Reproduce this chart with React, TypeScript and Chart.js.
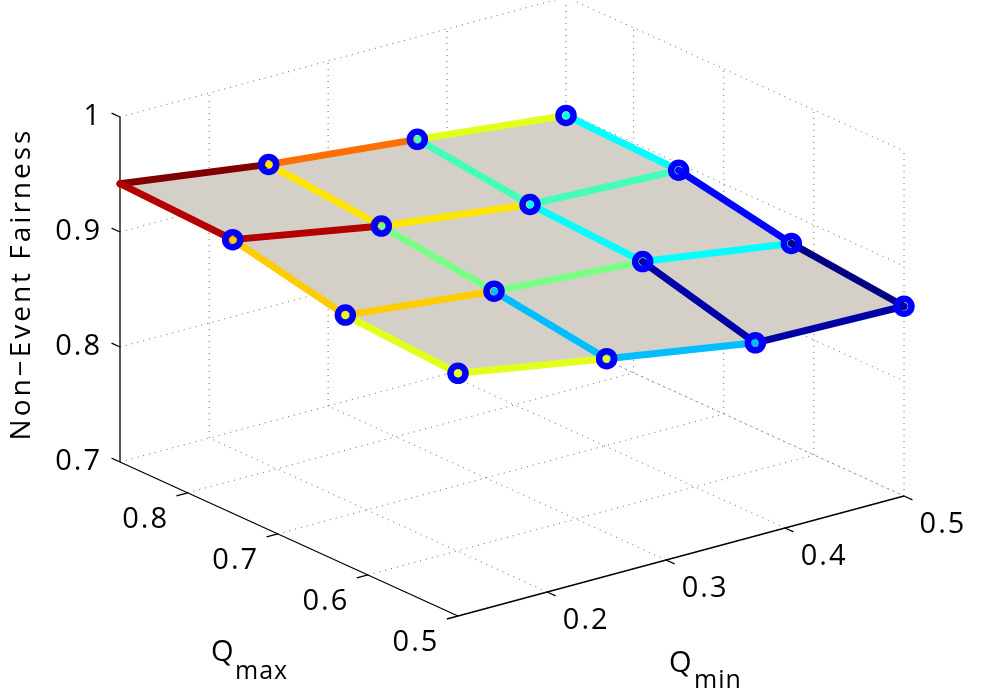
import React, { useEffect, useRef } from "react";
import { Chart, registerables } from "chart.js";

Chart.register(...registerables);

// surface grid
const qMinValues = [0.125, 0.25, 0.375, 0.5];
const qMaxValues = [0.5, 0.625, 0.75, 0.875];

// Non-Event Fairness, one row per Qmax value (columns follow qMinValues)
const fairnessQmax0500 = [0.911, 0.889, 0.868, 0.865];
const fairnessQmax0625 = [0.917, 0.903, 0.894, 0.875];
const fairnessQmax0750 = [0.938, 0.915, 0.899, 0.894];
const fairnessQmax0875 = [0.942, 0.924, 0.911, 0.897];
const fairnessRows = [fairnessQmax0500, fairnessQmax0625, fairnessQmax0750, fairnessQmax0875];

// axis limits and ticks
const qMinLimits = [0.125, 0.5];
const qMaxLimits = [0.5, 0.875];
const fairnessLimits = [0.7, 1];
const qMinTicks = [0.2, 0.3, 0.4, 0.5];
const qMaxTicks = [0.5, 0.6, 0.7, 0.8];
const fairnessTicks = [0.7, 0.8, 0.9, 1];

// orthographic view: screen position of the front floor corner and the
// screen vectors spanned by each full axis range
const VIEW = {
  origin: [458, 616],
  qMin: [446, -120],
  qMax: [-338, -154],
  z: [0, -345],
};

const FONT = "'Open Sans', 'Noto Sans', sans-serif";
const FACE_COLOR = "#d4d0c8";
const MARKER_COLOR = "#0000ff";

type P = { x: number; y: number };

const norm = (v: number, lim: number[]) => (v - lim[0]) / (lim[1] - lim[0]);

function project(qmin: number, qmax: number, z: number): P {
  const a = norm(qmin, qMinLimits);
  const b = norm(qmax, qMaxLimits);
  const c = norm(z, fairnessLimits);
  return {
    x: VIEW.origin[0] + a * VIEW.qMin[0] + b * VIEW.qMax[0] + c * VIEW.z[0],
    y: VIEW.origin[1] + a * VIEW.qMin[1] + b * VIEW.qMax[1] + c * VIEW.z[1],
  };
}

// MATLAB jet colormap
function jet(t: number) {
  const c = (v: number) => Math.round(255 * Math.min(1, Math.max(0, v)));
  const r = c(1.5 - Math.abs(4 * t - 3));
  const g = c(1.5 - Math.abs(4 * t - 2));
  const b = c(1.5 - Math.abs(4 * t - 1));
  return `rgb(${r},${g},${b})`;
}

function lineSet(points: P[], style: Record<string, unknown>, order: number) {
  return {
    type: "line" as const,
    data: points,
    showLine: true,
    pointRadius: 0,
    pointHoverRadius: 0,
    fill: false,
    order,
    ...style,
  };
}

function buildDatasets() {
  const sets: any[] = [];
  const allZ = fairnessRows.flat();
  const zLo = Math.min(...allZ);
  const zHi = Math.max(...allZ);
  const vertex = (i: number, j: number) =>
    project(qMinValues[j], qMaxValues[i], fairnessRows[i][j]);
  const colorAt = (i: number, j: number) => jet((fairnessRows[i][j] - zLo) / (zHi - zLo));

  // dotted grid on floor and back walls
  const grid = { borderColor: "rgba(40,40,40,0.7)", borderWidth: 1, borderDash: [1, 5] };
  const [q0, q1] = qMinLimits;
  const [m0, m1] = qMaxLimits;
  const [z0, z1] = fairnessLimits;
  qMinTicks.forEach((t) => {
    sets.push(lineSet([project(t, m0, z0), project(t, m1, z0)], grid, 6));
    sets.push(lineSet([project(t, m1, z0), project(t, m1, z1)], grid, 6));
  });
  qMaxTicks.forEach((t) => {
    sets.push(lineSet([project(q0, t, z0), project(q1, t, z0)], grid, 6));
    sets.push(lineSet([project(q1, t, z0), project(q1, t, z1)], grid, 6));
  });
  fairnessTicks.forEach((t) => {
    sets.push(lineSet([project(q0, m1, t), project(q1, m1, t)], grid, 6));
    sets.push(lineSet([project(q1, m1, t), project(q1, m0, t)], grid, 6));
  });

  // solid axes and tick marks
  const axis = { borderColor: "#000", borderWidth: 1.3 };
  sets.push(lineSet([project(q0, m1, z0), project(q0, m1, z1)], axis, 5));
  sets.push(lineSet([project(q0, m0, z0), project(q0, m1, z0)], axis, 5));
  sets.push(lineSet([project(q0, m0, z0), project(q1, m0, z0)], axis, 5));
  const tq = 0.025 * (q1 - q0);
  const tm = 0.025 * (m1 - m0);
  fairnessTicks.forEach((t) =>
    sets.push(lineSet([project(q0, m1, t), project(q0, m1 + tm, t)], axis, 5))
  );
  qMaxTicks.forEach((t) =>
    sets.push(lineSet([project(q0, t, z0), project(q0 - tq, t, z0)], axis, 5))
  );
  qMinTicks.forEach((t) =>
    sets.push(lineSet([project(t, m0, z0), project(t, m0 - tm, z0)], axis, 5))
  );

  // surface faces
  for (let i = 0; i < qMaxValues.length - 1; i++) {
    for (let j = 0; j < qMinValues.length - 1; j++) {
      const poly = [vertex(i, j), vertex(i, j + 1), vertex(i + 1, j + 1), vertex(i + 1, j), vertex(i, j)];
      sets.push(
        lineSet(poly, { fill: "shape", backgroundColor: FACE_COLOR, borderWidth: 0, borderColor: FACE_COLOR }, 4)
      );
    }
  }

  // coloured mesh edges (flat colour of the lower-index vertex)
  for (let i = 0; i < qMaxValues.length; i++) {
    for (let j = 0; j < qMinValues.length; j++) {
      const edge = { borderColor: colorAt(i, j), borderWidth: 7, borderCapStyle: "round" };
      if (j + 1 < qMinValues.length) sets.push(lineSet([vertex(i, j), vertex(i, j + 1)], edge, 2));
      if (i + 1 < qMaxValues.length) sets.push(lineSet([vertex(i, j), vertex(i + 1, j)], edge, 2));
    }
  }

  // hollow blue markers (none on the top-left corner vertex)
  const markers: P[] = [];
  for (let i = 0; i < qMaxValues.length; i++) {
    for (let j = 0; j < qMinValues.length; j++) {
      if (i === qMaxValues.length - 1 && j === 0) continue;
      markers.push(vertex(i, j));
    }
  }
  sets.push({
    type: "line" as const,
    data: markers,
    showLine: false,
    pointStyle: "circle",
    pointRadius: 7.5,
    pointHoverRadius: 7.5,
    pointBorderWidth: 6.5,
    pointBorderColor: MARKER_COLOR,
    pointBackgroundColor: "rgba(0,0,0,0)",
    order: 0,
  });
  return sets;
}

const labelsPlugin = {
  id: "labels3d",
  afterDraw(chart: Chart) {
    const { ctx } = chart;
    const sx = chart.scales.x;
    const sy = chart.scales.y;
    const px = (p: P) => ({ x: sx.getPixelForValue(p.x), y: sy.getPixelForValue(p.y) });
    const [q0] = qMinLimits;
    const [m0, m1] = qMaxLimits;
    const z0 = fairnessLimits[0];
    ctx.save();
    ctx.fillStyle = "#000";
    (ctx as any).letterSpacing = "2px";
    ctx.font = `29px ${FONT}`;
    ctx.textBaseline = "middle";

    ctx.textAlign = "right";
    fairnessTicks.forEach((t) => {
      const p = px(project(q0, m1, t));
      ctx.fillText(String(t), p.x - 18, p.y);
    });
    ctx.textAlign = "center";
    qMaxTicks.forEach((t) => {
      const p = px(project(q0, t, z0));
      ctx.fillText(String(t), p.x - 42, p.y + 27);
    });
    qMinTicks.forEach((t) => {
      const p = px(project(t, m0, z0));
      ctx.fillText(String(t), p.x + 39, p.y + 29);
    });

    // axis titles
    ctx.textBaseline = "alphabetic";
    ctx.textAlign = "left";
    (ctx as any).letterSpacing = "1px";
    ctx.font = `29px ${FONT}`;
    ctx.fillText("Q", 211, 661);
    ctx.fillText("Q", 669, 672);
    ctx.font = `25px ${FONT}`;
    ctx.fillText("max", 235, 679);
    ctx.fillText("min", 694, 688);

    ctx.translate(22, 284);
    ctx.rotate(-Math.PI / 2);
    ctx.textAlign = "center";
    ctx.textBaseline = "middle";
    (ctx as any).letterSpacing = "3px";
    ctx.font = `28px ${FONT}`;
    ctx.fillText("Non\u2212Event Fairness", 0, 0);
    ctx.restore();
  },
};

export default function App() {
  const canvasRef = useRef<HTMLCanvasElement>(null);
  const chartRef = useRef<Chart | null>(null);

  useEffect(() => {
    if (!canvasRef.current) return;
    if (chartRef.current) chartRef.current.destroy();
    chartRef.current = new Chart(canvasRef.current, {
      type: "line",
      data: { datasets: buildDatasets() },
      options: {
        animation: false,
        responsive: true,
        maintainAspectRatio: false,
        events: [],
        layout: { padding: 0, autoPadding: false },
        elements: { line: { tension: 0 } },
        plugins: { legend: { display: false }, tooltip: { enabled: false } },
        scales: {
          x: { type: "linear", min: 0, max: 1000, display: false },
          y: { type: "linear", min: 0, max: 700, reverse: true, display: false },
        },
      },
      plugins: [labelsPlugin],
    } as any);
    return () => {
      chartRef.current?.destroy();
      chartRef.current = null;
    };
  }, []);

  return (
    <div style={{ position: "fixed", left: 0, top: 0, width: 1000, height: 700, background: "#fff" }}>
      <canvas ref={canvasRef} />
    </div>
  );
}
